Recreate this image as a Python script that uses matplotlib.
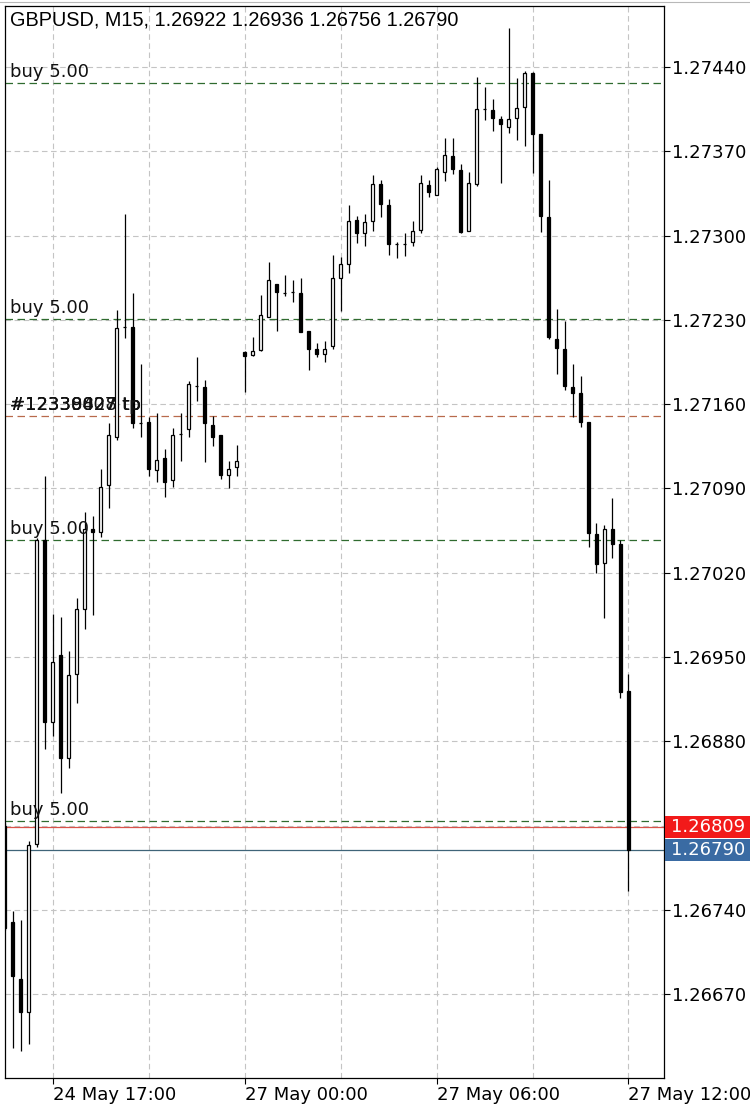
import matplotlib
matplotlib.use("Agg")
import matplotlib.pyplot as plt
from matplotlib.patches import Rectangle
from matplotlib.lines import Line2D

# ---------------- data ----------------
title_text = "GBPUSD, M15, 1.26922 1.26936 1.26756 1.26790"

opens = [1.26810, 1.26730, 1.26683, 1.26655, 1.26795, 1.27047, 1.26896, 1.26952, 1.26866, 1.26936,
         1.26990, 1.27056, 1.27054, 1.27093, 1.27133, 1.27224, 1.27224, 1.27144, 1.27145, 1.27105,
         1.27115, 1.27097, 1.27135, 1.27139, 1.27175, 1.27174, 1.27143, 1.27134, 1.27101, 1.27108,
         1.27203, 1.27201, 1.27205, 1.27232, 1.27260, 1.27252, 1.27253, 1.27252, 1.27221, 1.27206,
         1.27202, 1.27208, 1.27265, 1.27276, 1.27313, 1.27302, 1.27312, 1.27343, 1.27325, 1.27293,
         1.27293, 1.27295, 1.27305, 1.27342, 1.27334, 1.27353, 1.27366, 1.27354, 1.27304, 1.27343,
         1.27405, 1.27404, 1.27397, 1.27390, 1.27398, 1.27407, 1.27435, 1.27384, 1.27315, 1.27214,
         1.27206, 1.27174, 1.27169, 1.27145, 1.27052, 1.27028, 1.27056, 1.27044, 1.26922]
highs = [1.26812, 1.26739, 1.26732, 1.26797, 1.27049, 1.27100, 1.26986, 1.26983, 1.26955, 1.26999,
         1.27070, 1.27067, 1.27106, 1.27144, 1.27238, 1.27318, 1.27252, 1.27193, 1.27149, 1.27153,
         1.27123, 1.27140, 1.27153, 1.27179, 1.27199, 1.27180, 1.27150, 1.27134, 1.27113, 1.27126,
         1.27204, 1.27216, 1.27251, 1.27278, 1.27260, 1.27267, 1.27263, 1.27265, 1.27221, 1.27211,
         1.27212, 1.27284, 1.27282, 1.27325, 1.27316, 1.27318, 1.27350, 1.27346, 1.27330, 1.27295,
         1.27302, 1.27312, 1.27350, 1.27346, 1.27357, 1.27381, 1.27381, 1.27359, 1.27353, 1.27432,
         1.27423, 1.27413, 1.27399, 1.27472, 1.27431, 1.27437, 1.27436, 1.27384, 1.27346, 1.27239,
         1.27229, 1.27193, 1.27183, 1.27145, 1.27061, 1.27060, 1.27082, 1.27047, 1.26936]
lows = [1.26723, 1.26625, 1.26623, 1.26629, 1.26792, 1.26874, 1.26884, 1.26837, 1.26858, 1.26912,
        1.26973, 1.26985, 1.27050, 1.27074, 1.27130, 1.27215, 1.27140, 1.27133, 1.27100, 1.27095,
        1.27083, 1.27091, 1.27113, 1.27133, 1.27163, 1.27112, 1.27125, 1.27098, 1.27090, 1.27100,
        1.27170, 1.27200, 1.27204, 1.27232, 1.27221, 1.27250, 1.27245, 1.27220, 1.27188, 1.27199,
        1.27195, 1.27206, 1.27237, 1.27269, 1.27294, 1.27291, 1.27304, 1.27315, 1.27284, 1.27281,
        1.27283, 1.27291, 1.27302, 1.27332, 1.27334, 1.27345, 1.27351, 1.27302, 1.27304, 1.27341,
        1.27396, 1.27387, 1.27344, 1.27385, 1.27379, 1.27374, 1.27352, 1.27303, 1.27214, 1.27185,
        1.27172, 1.27149, 1.27141, 1.27041, 1.27020, 1.26982, 1.27032, 1.26916, 1.26756]
closes = [1.26725, 1.26685, 1.26655, 1.26794, 1.27047, 1.26896, 1.26946, 1.26866, 1.26935, 1.26990,
          1.27056, 1.27054, 1.27091, 1.27134, 1.27223, 1.27224, 1.27144, 1.27144, 1.27106, 1.27114,
          1.27095, 1.27134, 1.27135, 1.27177, 1.27175, 1.27144, 1.27133, 1.27101, 1.27106, 1.27113,
          1.27200, 1.27204, 1.27234, 1.27263, 1.27253, 1.27252, 1.27253, 1.27220, 1.27206, 1.27202,
          1.27206, 1.27265, 1.27276, 1.27312, 1.27302, 1.27311, 1.27343, 1.27326, 1.27293, 1.27293,
          1.27293, 1.27304, 1.27344, 1.27336, 1.27355, 1.27367, 1.27355, 1.27303, 1.27344, 1.27405,
          1.27405, 1.27398, 1.27393, 1.27397, 1.27406, 1.27435, 1.27384, 1.27316, 1.27216, 1.27207,
          1.27175, 1.27169, 1.27145, 1.27053, 1.27027, 1.27056, 1.27044, 1.26921, 1.26790]

price_ticks = [1.26670, 1.26740, 1.26810, 1.26880, 1.26950, 1.27020, 1.27090,
               1.27160, 1.27230, 1.27300, 1.27370, 1.27440]
hidden_price_labels = [1.26810]   # covered by the ask/bid boxes
time_tick_bars = [6, 30, 54, 78]
time_tick_labels = ["24 May 17:00", "27 May 00:00", "27 May 06:00", "27 May 12:00"]
time_grid_bars = [18, 42, 66]

buy_levels = [1.27427, 1.27231, 1.27047, 1.26814]
buy_label = "buy 5.00"
tp_level = 1.27150
tp_labels = ["#12330007 tp", "#12339828 tp", "#12338427 tp"]
ask_price = 1.26809
bid_price = 1.26790

# ---------------- figure ----------------
W, H = 750, 1105
FS = 13
fig = plt.figure(figsize=(W / 100, H / 100), dpi=100)
fig.patch.set_facecolor("white")
ax = fig.add_axes([4.5 / W, 1 - 1078 / H, (664 - 4.5) / W, (1078 - 6) / H])
ax.set_facecolor("white")

n = len(opens)
ax.set_xlim(-0.02, 82.44)
ax.set_ylim(1.266004, 1.274906)

grid_kw = dict(color="#c4c4c4", lw=0.8, dashes=(5, 3.2), zorder=0.5)
for p in price_ticks:
    ax.axhline(p, **grid_kw)
for b in time_tick_bars + time_grid_bars:
    ax.axvline(b, **grid_kw)

# order lines
for lv in buy_levels:
    ax.axhline(lv, color="#2f6b2f", lw=0.9, dashes=(6, 3.6), zorder=1)
    ax.annotate(buy_label, xy=(0, lv), xycoords=("axes fraction", "data"),
                xytext=(6, 2), textcoords="offset pixels", ha="left", va="bottom",
                fontsize=FS, family="DejaVu Sans", color="#111111", zorder=6)
ax.axhline(tp_level, color="#b86a4c", lw=0.9, dashes=(6, 3.6), zorder=1)
for t in tp_labels:
    ax.annotate(t, xy=(0, tp_level), xycoords=("axes fraction", "data"),
                xytext=(6, 2), textcoords="offset pixels", ha="left", va="bottom",
                fontsize=FS, family="DejaVu Sans", color="#111111", zorder=6)
ax.axhline(ask_price, color="#d9534a", lw=0.9, zorder=1)
ax.axhline(bid_price, color="#3f6478", lw=0.9, zorder=1)

# candles
body_w = 0.42
for i in range(n):
    o, h, l, c = opens[i], highs[i], lows[i], closes[i]
    ax.add_line(Line2D([i, i], [l, h], color="black", lw=0.9, zorder=3,
                       solid_capstyle="butt"))
    bottom = min(o, c)
    height = abs(c - o)
    face = "white" if c > o else "black"
    ax.add_patch(Rectangle((i - body_w / 2, bottom), body_w, height,
                           facecolor=face, edgecolor="black", lw=0.9, zorder=4))

# axes styling
for s in ax.spines.values():
    s.set_color("black")
    s.set_linewidth(0.9)

ax.yaxis.tick_right()
ax.set_yticks(price_ticks)
ax.set_yticklabels(["" if p in hidden_price_labels else f"{p:.5f}" for p in price_ticks])
ax.tick_params(axis="y", direction="out", length=4, width=0.8, pad=2,
               labelsize=FS, colors="black")
ax.set_xticks(time_tick_bars)
ax.set_xticklabels(time_tick_labels)
ax.tick_params(axis="x", direction="out", length=4, width=0.8, pad=2,
               labelsize=FS, colors="black")
for lab in ax.get_xticklabels():
    lab.set_horizontalalignment("left")
    lab.set_family("DejaVu Sans")

# price boxes on the right axis (positioned through the data transform)
box_h_px = 22
for price, col in [(ask_price, "#f21a1a"), (bid_price, "#3a6ba3")]:
    _, ypx = ax.transData.transform((0, price))
    fig.add_artist(Rectangle((665 / W, (ypx - box_h_px / 2) / H), (W - 665) / W, box_h_px / H,
                             transform=fig.transFigure, facecolor=col, edgecolor="none",
                             zorder=20))
    fig.text(671 / W, ypx / H, f"{price:.5f}", ha="left", va="center", fontsize=FS,
             family="DejaVu Sans", color="white", zorder=21)

# title
ax.annotate(title_text, xy=(0, 1), xycoords="axes fraction", xytext=(6, -14),
            textcoords="offset pixels", ha="left", va="center",
            fontsize=14.3, family="Liberation Sans", color="black", zorder=10)

# faint separator line at very top
fig.add_artist(Line2D([0, 1], [1 - 1.5 / H, 1 - 1.5 / H], color="#b8b8b8", lw=0.8))

fig.savefig("out.png", dpi=100, facecolor="white")
